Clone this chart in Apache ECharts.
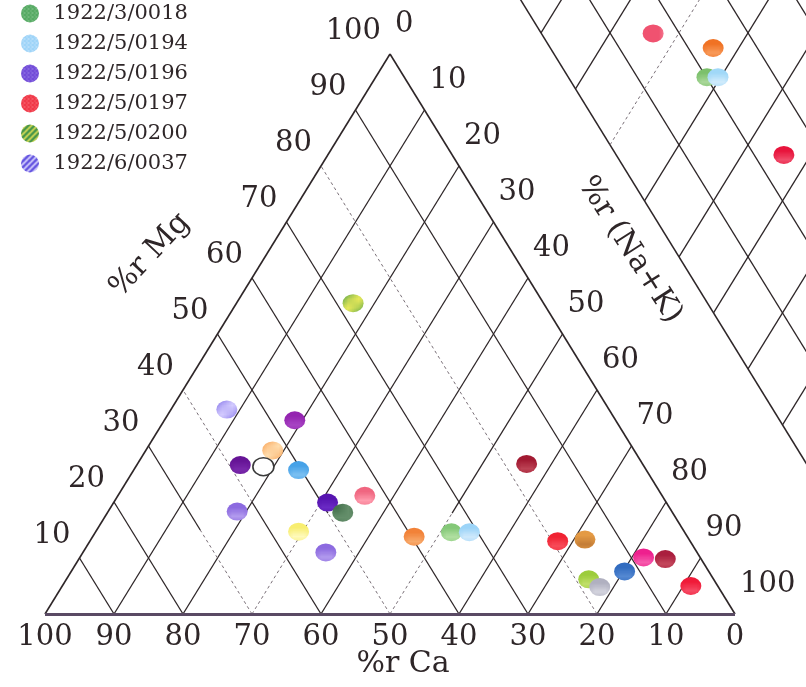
<!DOCTYPE html>
<html>
<head>
<meta charset="utf-8">
<script src="https://cdn.jsdelivr.net/npm/echarts@6/dist/echarts.min.js"></script>
<style>
  html, body { margin: 0; padding: 0; background: #ffffff; }
  #chart { width: 806px; height: 687px; }
</style>
</head>
<body>
<div id="chart"></div>
<script>
// ---- cation triangle samples, %r (meq) ----
const triCa  = [55.4, 46.5, 52.4, 58.4, 55.2, 50.4, 49.1, 47.8, 43.1, 63.0, 55.9, 53.8, 39.6, 33.8, 31.2, 19.2, 15.1, 18.1, 17.2, 12.2, 8.2, 5.2, 3.9, 27.6, 16.8];
const triMg  = [36.5, 34.6, 29.2, 26.6, 26.3, 25.7, 19.9, 18.1, 21.1, 18.3, 14.7, 11.0, 13.8, 14.6, 14.6, 13.0, 13.3, 6.2, 4.8, 7.6, 10.1, 9.8, 5.0, 55.5, 26.8];
const triNaK = [8.1, 18.9, 18.4, 15.0, 18.5, 23.9, 31.0, 34.1, 35.8, 18.7, 29.4, 35.2, 46.6, 51.6, 54.2, 67.8, 71.6, 75.7, 78.0, 80.2, 81.7, 85.0, 91.1, 16.9, 56.4];
// which legend entry each triangle sample belongs to (-1: not listed)
const triGroup = [5, -1, -1, -1, -1, -1, -1, -1, -1, 2, -1, -1, -1, 0, 1, 3, -1, -1, -1, -1, -1, -1, -1, 4, -1];

// ---- central diamond samples: %r (Na+K) and %r (Cl+SO4) ----
const diaNaK   = [36.3, 46.3, 48.0, 49.6, 66.1];
const diaClSO4 = [16.2, 23.6, 20.1, 21.7, 24.3];
const diaGroup = [-1, -1, 0, 1, 3];

// ---- legend ----
const legendNames = ['1922/3/0018', '1922/5/0194', '1922/5/0196', '1922/5/0197', '1922/5/0200', '1922/6/0037'];

// ---- tick labels ----
const caTicks  = [100, 90, 80, 70, 60, 50, 40, 30, 20, 10, 0];
const mgTicks  = [10, 20, 30, 40, 50, 60, 70, 80, 90, 100];
const nakTicks = [0, 10, 20, 30, 40, 50, 60, 70, 80, 90, 100];
const gridSteps = [10, 20, 30, 40, 50, 60, 70, 80, 90];
const diaSteps  = [0, 10, 20, 30, 40, 50, 60, 70, 80, 90, 100];

// ---- marker fills: [kind, base, accent] ----
const triFill = [
  ['dstr', '#7a68e6', '#d4ccff'], ['tex', '#9424b0', '#a844c4'], ['dstr', '#f89a48', '#ffdcac'],
  ['tex', '#661496', '#7a2aac'], ['ring', '#ffffff', '#3a3a3a'], ['tex', '#46a2e8', '#7cc0f2'],
  ['tex', '#5614b0', '#6a2ac4'], ['grid', '#46724e', '#648e6a'], ['tex', '#f06680', '#ff9cae'],
  ['tex', '#8c6ae0', '#b29aee'], ['tex', '#f8ee70', '#fffabc'], ['tex', '#8c6ae0', '#b29aee'],
  ['tex', '#f28238', '#f8aa6c'], ['tex', '#84c878', '#b2e0a2'], ['tex', '#9cd4f8', '#d0eafc'],
  ['tex', '#f02232', '#f84c5a'], ['tex', '#e49a44', '#c47e38'], ['tex', '#9ccc3c', '#c2e06a'],
  ['tex', '#b0b0c0', '#d4d4de'], ['tex', '#326cc0', '#5488d2'], ['tex', '#ee208e', '#f65aac'],
  ['tex', '#aa1e3e', '#c4485c'], ['tex', '#f01a38', '#f64a64'], ['dstr', '#3e9848', '#eaea5a'],
  ['tex', '#a21a32', '#bc4254']
];
const diaFill = [
  ['vstr', '#f05270', '#f89cae'], ['tex', '#f07224', '#f89a5a'], ['tex', '#7cc06c', '#aad89a'],
  ['tex', '#a0d8f8', '#d2ecfc'], ['tex', '#e8143c', '#f04c6a']
];
const legendFill = [
  ['tex', '#56aa64', '#8ac892'], ['tex', '#9ed4f8', '#cee8fc'], ['tex', '#724cd8', '#9a82e8'],
  ['tex', '#f03848', '#f8747e'], ['dstr', '#44944a', '#e0e056'], ['dstr', '#6252e0', '#dedaff']
];

// ---- page layout of the cation triangle ----
const W = 806, H = 687;
const LEFT_PX = 45, BASE_PX = 614, SIDE_PX = 690, HEIGHT_PX = 560;
const PX_X = SIDE_PX / 100, PX_Y = HEIGHT_PX / 100;
const GAP = 23.77;               // gap to the anion triangle, % of side
const INK = '#2e2628';
const FONT = '"DejaVu Serif", "Liberation Serif", serif';

// ternary (Ca, Mg, Na+K) -> plane; Ca at left, Na+K at right, Mg at top
function tri(ca, mg, nak) {
  const t = ca + mg + nak;
  const m = mg / t * 100, n = nak / t * 100;
  return [n + m / 2, m];
}
// diamond: bottom corner sits above the middle of the gap
const B0 = [100 + GAP / 2, GAP];
function dia(nak, s) {
  return [B0[0] - 0.5 * (100 - nak) + 0.5 * s, B0[1] + (100 - nak) + s];
}

function fillOf(spec) {
  const kind = spec[0], base = spec[1], acc = spec[2];
  if (kind === 'solid' || kind === 'ring') return base;
  const cv = document.createElement('canvas');
  const ctx = cv.getContext('2d');
  if (kind === 'tex') {
    cv.width = 4; cv.height = 4;
    ctx.fillStyle = base; ctx.fillRect(0, 0, 4, 4);
    ctx.fillStyle = acc; ctx.fillRect(0, 0, 1, 1); ctx.fillRect(2, 2, 1, 1); ctx.fillRect(3, 0, 1, 1);
  } else if (kind === 'vstr') {
    cv.width = 4; cv.height = 4;
    ctx.fillStyle = base; ctx.fillRect(0, 0, 4, 4);
    ctx.fillStyle = acc; ctx.fillRect(1, 0, 1, 4);
  } else if (kind === 'grid') {
    cv.width = 4; cv.height = 4;
    ctx.fillStyle = base; ctx.fillRect(0, 0, 4, 4);
    ctx.fillStyle = acc; ctx.fillRect(0, 0, 4, 1); ctx.fillRect(0, 0, 1, 4);
  } else { // diagonal stripes
    cv.width = 6; cv.height = 6;
    ctx.fillStyle = base; ctx.fillRect(0, 0, 6, 6);
    ctx.strokeStyle = acc; ctx.lineWidth = 1.6;
    ctx.beginPath();
    ctx.moveTo(-1, 7); ctx.lineTo(7, -1);
    ctx.moveTo(-4, 4); ctx.lineTo(4, -4);
    ctx.moveTo(2, 10); ctx.lineTo(10, 2);
    ctx.stroke();
  }
  return { image: cv, repeat: 'repeat' };
}

// ---- grid lines of the triangle ----
// faint (dashed) stretches, given as Mg ranges along the line
const faint = {
  'ca20': [[0, 80]], 'ca60': [[20, 40]], 'ca50': [[0, 18]], 'ca70': [[0, 15]],
  'nak50': [[0, 18]], 'nak30': [[0, 20]]
};
const solidStyle = { color: INK, width: 1.3, opacity: 1, type: 'solid' };
const faintStyle = { color: '#7a7078', width: 1, opacity: 1, type: [3, 3] };

const lineData = [];
function pushSeg(p, q, style) { lineData.push({ coords: [p, q], lineStyle: style }); }

function triLine(kind, v) {
  const top = 100 - v;
  const at = kind === 'ca' ? (mg) => tri(v, mg, 100 - v - mg) : (mg) => tri(100 - v - mg, mg, v);
  const ranges = (faint[kind + v] || []).slice().sort((a, b) => a[0] - b[0]);
  let cur = 0;
  ranges.forEach(r => {
    if (r[0] > cur) pushSeg(at(cur), at(r[0]), solidStyle);
    pushSeg(at(r[0]), at(Math.min(r[1], top)), faintStyle);
    cur = Math.min(r[1], top);
  });
  if (cur < top) pushSeg(at(cur), at(top), solidStyle);
}
gridSteps.forEach(v => { triLine('ca', v); triLine('nak', v); });

// triangle outline
pushSeg(tri(100, 0, 0), tri(0, 100, 0), { color: INK, width: 1.6, opacity: 1 });
pushSeg(tri(0, 100, 0), tri(0, 0, 100), { color: INK, width: 1.6, opacity: 1 });
pushSeg(tri(100, 0, 0), tri(0, 0, 100), { color: '#5a4a64', width: 2.8, opacity: 1 });

// diamond grid
diaSteps.forEach(v => {
  pushSeg(dia(v, 0), dia(v, 100), v === 40 ? faintStyle : solidStyle);
  pushSeg(dia(0, v), dia(100, v), v === 0 ? { color: INK, width: 1.5, opacity: 1 } : solidStyle);
});

// ---- sample markers ----
function markerItem(pos, spec) {
  const it = { value: pos, itemStyle: { color: fillOf(spec), opacity: 1 } };
  if (spec[0] === 'ring') { it.itemStyle.borderColor = spec[2]; it.itemStyle.borderWidth = 1.5; }
  return it;
}
const groups = legendNames.map(() => []);
const unlisted = [];
triCa.forEach((c, i) => {
  const it = markerItem(tri(c, triMg[i], triNaK[i]), triFill[i]);
  (triGroup[i] >= 0 ? groups[triGroup[i]] : unlisted).push(it);
});
diaNaK.forEach((n, i) => {
  const it = markerItem(dia(n, diaClSO4[i]), diaFill[i]);
  (diaGroup[i] >= 0 ? groups[diaGroup[i]] : unlisted).push(it);
});

const markerBase = { type: 'scatter', symbol: 'circle', symbolSize: [21, 18], clip: false, z: 5, silent: true };
const sampleSeries = legendNames.map((name, i) => Object.assign({}, markerBase, {
  name: name, itemStyle: { color: fillOf(legendFill[i]), opacity: 1 }, data: groups[i]
}));
sampleSeries.unshift(Object.assign({}, markerBase, { name: 'unlisted', data: unlisted, z: 4, itemStyle: { opacity: 1 } }));

// ---- tick labels placed at the triangle edges ----
const tickLabel = { show: true, position: 'inside', fontFamily: FONT, fontSize: 29, color: INK, opacity: 1 };
function tickSeries(data, label) {
  return {
    type: 'scatter', symbolSize: 0.1, silent: true, clip: false, z: 6,
    itemStyle: { color: 'rgba(0,0,0,0)', opacity: 1 },
    label: Object.assign({}, tickLabel, label, { formatter: '{b}' }),
    data: data
  };
}
const caLabelData  = caTicks.map(v => ({ name: String(v), value: tri(v, 0, 100 - v) }));
const mgLabelData  = mgTicks.map(v => ({ name: String(v), value: tri(100 - v, v, 0) }));
const nakLabelData = nakTicks.map(v => ({ name: String(v), value: tri(0, 100 - v, v) }));

const titleStyle = { font: '30px ' + FONT, fill: INK, align: 'center', verticalAlign: 'middle', textAlign: 'center', textVerticalAlign: 'middle' };

const option = {
  animation: false,
  backgroundColor: '#ffffff',
  grid: { left: 0, right: 0, top: 0, bottom: 0, containLabel: false },
  xAxis: { type: 'value', min: -LEFT_PX / PX_X, max: (W - LEFT_PX) / PX_X, show: false },
  yAxis: { type: 'value', min: -(H - BASE_PX) / PX_Y, max: BASE_PX / PX_Y, show: false },
  legend: {
    data: legendNames, orient: 'vertical', left: 21, top: 3, padding: 0,
    itemWidth: 19, itemHeight: 18, itemGap: 9, icon: 'circle', selectedMode: false,
    itemStyle: { opacity: 1 },
    textStyle: { fontFamily: FONT, fontSize: 21, color: INK, padding: [0, 0, 0, 9] }
  },
  graphic: [
    { type: 'text', x: 403, y: 664, style: Object.assign({ text: '%r Ca' }, titleStyle) },
    { type: 'text', x: 150, y: 255, rotation: 0.82, style: Object.assign({ text: '%r Mg' }, titleStyle) },
    { type: 'text', x: 630, y: 250, rotation: -1.0, style: Object.assign({ text: '%r (Na+K)' }, titleStyle) }
  ],
  series: [
    { type: 'lines', coordinateSystem: 'cartesian2d', polyline: false, silent: true, z: 1,
      symbol: ['none', 'none'], effect: { show: false },
      lineStyle: { color: INK, width: 1.3, opacity: 1 }, data: lineData },
    tickSeries(caLabelData,  { offset: [0, 23], align: 'center', verticalAlign: 'middle' }),
    tickSeries(mgLabelData,  { offset: [-9, -23], align: 'right', verticalAlign: 'middle' }),
    tickSeries(nakLabelData, { offset: [5, -30], align: 'left', verticalAlign: 'middle' })
  ].concat(sampleSeries)
};

const chart = echarts.init(document.getElementById('chart'), null, { renderer: 'canvas', width: W, height: H });
chart.setOption(option);
</script>
</body>
</html>
